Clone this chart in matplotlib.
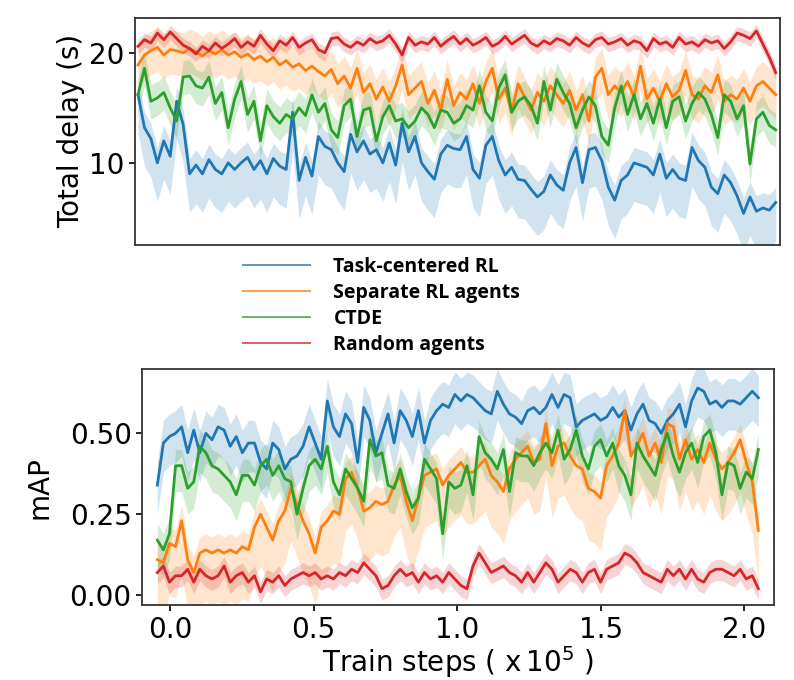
import matplotlib
matplotlib.use("Agg")
import matplotlib.pyplot as plt
import numpy as np

# train steps (x 1e5), same sampling for both panels
steps = np.linspace(-0.045, 2.05, 100)

labels = ["Task-centered RL", "Separate RL agents", "CTDE", "Random agents"]
colors = ["#1f77b4", "#ff7f0e", "#2ca02c", "#d62728"]

# ---- total delay (s) ----
delay_task = [16.2, 13.2, 12.2, 10.0, 12.0, 10.6, 15.6, 13.5, 9.0, 9.8,
              9.0, 10.3, 9.4, 9.0, 10.0, 9.4, 10.0, 10.5, 9.4, 10.2,
              9.0, 10.4, 9.7, 9.4, 14.6, 8.4, 10.5, 8.8, 12.4, 11.5,
              11.2, 10.0, 9.2, 12.6, 11.0, 12.0, 10.8, 11.2, 10.0, 11.8,
              9.8, 13.6, 11.0, 12.4, 10.0, 9.2, 8.5, 10.8, 11.6, 11.3,
              11.2, 12.4, 9.4, 8.6, 11.6, 12.4, 10.2, 8.9, 9.6, 8.5,
              8.4, 7.6, 6.9, 7.4, 8.9, 8.0, 7.5, 10.0, 11.4, 8.2,
              11.2, 11.4, 10.2, 7.8, 6.6, 8.4, 8.9, 10.0, 9.8, 9.6,
              8.9, 10.8, 8.6, 9.4, 8.6, 8.4, 11.4, 10.2, 9.6, 7.8,
              7.2, 8.9, 8.2, 7.0, 5.4, 6.9, 5.6, 5.9, 5.7, 6.4]
delay_sep = [18.9, 19.8, 20.2, 20.5, 19.8, 20.3, 20.2, 20.0, 20.4, 20.1,
             19.7, 20.2, 19.9, 20.3, 19.8, 20.1, 19.6, 19.9, 19.4, 19.7,
             19.2, 19.6, 18.9, 19.3, 18.7, 19.0, 18.4, 18.8, 18.3, 17.9,
             18.5, 17.2, 17.9, 16.8, 18.6, 16.4, 17.2, 15.8, 16.9, 15.6,
             17.0, 18.9, 16.2, 16.8, 17.4, 15.4, 16.6, 14.8, 17.6, 15.2,
             16.4, 15.8, 17.2, 15.4, 17.4, 18.6, 15.8, 16.8, 14.6, 17.2,
             16.0, 14.8, 16.4, 15.6, 17.0, 16.2, 15.4, 16.6, 14.8, 16.2,
             13.8, 17.8, 18.6, 16.2, 17.0, 16.4, 17.4, 16.0, 18.8, 15.8,
             16.8, 15.6, 17.2, 16.0, 16.6, 18.4, 16.2, 15.8, 17.0, 16.4,
             18.0, 15.6, 16.2, 15.8, 16.8, 15.6, 17.0, 17.4, 16.8, 16.2]
delay_ctde = [16.2, 18.6, 15.6, 15.9, 16.4, 15.0, 13.8, 17.8, 17.9, 17.0,
              16.8, 17.8, 15.4, 16.4, 13.2, 15.8, 17.4, 14.4, 15.6, 12.0,
              15.2, 14.2, 13.6, 14.4, 14.0, 15.0, 14.3, 16.2, 14.6, 15.4,
              13.0, 12.3, 15.2, 15.8, 12.4, 14.8, 15.0, 12.0, 14.2, 15.2,
              13.8, 14.0, 13.2, 13.8, 15.0, 14.4, 13.2, 14.8, 14.6, 13.6,
              14.0, 15.2, 14.8, 17.0, 14.6, 13.8, 16.8, 18.0, 14.6, 15.6,
              16.0, 15.2, 13.6, 17.4, 14.8, 17.6, 16.4, 15.4, 13.2, 14.8,
              16.0, 15.2, 12.4, 11.6, 15.0, 17.0, 14.4, 16.2, 14.0, 15.4,
              13.6, 15.8, 13.2, 15.6, 16.0, 13.8, 15.4, 16.4, 15.8, 14.4,
              12.3, 16.2, 15.6, 14.0, 15.2, 9.9, 14.0, 14.6, 13.4, 13.0]
delay_rand = [20.6, 21.2, 20.9, 21.8, 21.2, 21.9, 21.3, 20.7, 20.4, 19.9,
              20.6, 20.2, 20.9, 20.4, 20.8, 21.3, 20.5, 21.0, 20.6, 21.6,
              20.8, 20.2, 21.1, 20.7, 21.4, 20.5, 20.9, 21.2, 20.3, 20.0,
              21.3, 21.4, 20.8, 20.5, 21.0, 20.7, 21.3, 20.9, 21.1, 21.6,
              20.8, 19.8, 21.4, 20.7, 21.0, 20.8, 21.4, 20.6, 21.1, 21.5,
              20.8, 21.3, 20.7, 21.0, 21.4, 20.6, 20.9, 21.5, 20.8, 21.2,
              21.6, 20.9, 20.6, 21.1, 20.8, 21.3, 21.1, 20.7, 21.4, 20.9,
              20.6, 21.2, 21.4, 20.8, 21.0, 21.3, 20.7, 21.1, 20.9, 20.2,
              21.3, 20.8, 21.0, 20.5, 21.4, 20.8, 21.0, 20.6, 21.2, 20.9,
              21.1, 20.4, 21.0, 21.8, 21.6, 21.3, 22.0, 20.8, 19.6, 18.2]

# ---- mAP ----
map_task = [0.34, 0.47, 0.49, 0.50, 0.52, 0.44, 0.51, 0.44, 0.50, 0.48,
            0.52, 0.51, 0.46, 0.49, 0.44, 0.47, 0.47, 0.41, 0.39, 0.47,
            0.45, 0.39, 0.42, 0.43, 0.46, 0.52, 0.47, 0.42, 0.60, 0.52,
            0.49, 0.56, 0.53, 0.41, 0.58, 0.54, 0.44, 0.50, 0.56, 0.47,
            0.57, 0.54, 0.49, 0.57, 0.47, 0.54, 0.57, 0.59, 0.58, 0.62,
            0.60, 0.62, 0.61, 0.59, 0.57, 0.56, 0.63, 0.59, 0.56, 0.55,
            0.53, 0.57, 0.58, 0.56, 0.58, 0.62, 0.58, 0.62, 0.61, 0.52,
            0.54, 0.55, 0.56, 0.54, 0.55, 0.58, 0.55, 0.57, 0.51, 0.56,
            0.59, 0.54, 0.53, 0.50, 0.54, 0.56, 0.59, 0.52, 0.60, 0.64,
            0.63, 0.59, 0.60, 0.58, 0.60, 0.60, 0.59, 0.61, 0.63, 0.61]
map_sep = [0.11, 0.10, 0.16, 0.15, 0.23, 0.11, 0.07, 0.13, 0.14, 0.13,
           0.14, 0.13, 0.14, 0.13, 0.15, 0.14, 0.21, 0.25, 0.21, 0.17,
           0.23, 0.26, 0.33, 0.28, 0.23, 0.19, 0.13, 0.21, 0.23, 0.26,
           0.25, 0.36, 0.38, 0.33, 0.26, 0.27, 0.29, 0.28, 0.29, 0.34,
           0.37, 0.29, 0.23, 0.30, 0.37, 0.38, 0.39, 0.34, 0.37, 0.39,
           0.41, 0.38, 0.38, 0.40, 0.42, 0.37, 0.35, 0.32, 0.39, 0.42,
           0.44, 0.46, 0.41, 0.42, 0.53, 0.40, 0.46, 0.47, 0.43, 0.40,
           0.39, 0.33, 0.32, 0.30, 0.40, 0.43, 0.47, 0.57, 0.43, 0.46,
           0.50, 0.43, 0.47, 0.41, 0.53, 0.52, 0.42, 0.48, 0.42, 0.45,
           0.41, 0.47, 0.42, 0.39, 0.41, 0.44, 0.48, 0.41, 0.35, 0.20]
map_ctde = [0.17, 0.14, 0.19, 0.40, 0.40, 0.33, 0.35, 0.46, 0.44, 0.40,
            0.39, 0.37, 0.35, 0.31, 0.37, 0.37, 0.34, 0.40, 0.42, 0.37,
            0.40, 0.36, 0.35, 0.25, 0.33, 0.40, 0.42, 0.39, 0.46, 0.35,
            0.31, 0.39, 0.36, 0.33, 0.29, 0.48, 0.43, 0.44, 0.34, 0.33,
            0.39, 0.32, 0.27, 0.30, 0.42, 0.39, 0.36, 0.19, 0.35, 0.33,
            0.34, 0.40, 0.31, 0.49, 0.44, 0.42, 0.39, 0.45, 0.32, 0.44,
            0.43, 0.43, 0.40, 0.44, 0.47, 0.44, 0.51, 0.42, 0.45, 0.51,
            0.43, 0.39, 0.46, 0.48, 0.43, 0.47, 0.40, 0.37, 0.31, 0.47,
            0.43, 0.40, 0.37, 0.45, 0.50, 0.43, 0.38, 0.44, 0.47, 0.41,
            0.49, 0.51, 0.44, 0.31, 0.41, 0.40, 0.33, 0.38, 0.36, 0.45]
map_rand = [0.07, 0.09, 0.04, 0.06, 0.06, 0.08, 0.04, 0.08, 0.06, 0.05,
            0.06, 0.09, 0.04, 0.06, 0.07, 0.04, 0.06, 0.01, 0.05, 0.04,
            0.06, 0.03, 0.05, 0.06, 0.07, 0.06, 0.07, 0.05, 0.06, 0.05,
            0.07, 0.06, 0.08, 0.07, 0.10, 0.08, 0.06, 0.02, 0.03, 0.06,
            0.08, 0.06, 0.07, 0.04, 0.07, 0.05, 0.06, 0.04, 0.07, 0.05,
            0.03, 0.02, 0.09, 0.13, 0.10, 0.07, 0.08, 0.09, 0.07, 0.06,
            0.04, 0.07, 0.04, 0.07, 0.10, 0.08, 0.04, 0.06, 0.08, 0.07,
            0.04, 0.07, 0.08, 0.04, 0.08, 0.09, 0.10, 0.13, 0.12, 0.10,
            0.07, 0.06, 0.05, 0.04, 0.08, 0.06, 0.08, 0.05, 0.08, 0.05,
            0.04, 0.07, 0.08, 0.08, 0.07, 0.06, 0.08, 0.05, 0.06, 0.02]

# spread of the shaded band below / above the mean, per method
delay_spread_lo = [3.5, 2.2, 1.6, 0.7]
delay_spread_hi = [1.4, 1.8, 1.5, 0.6]
map_spread_lo = [0.09, 0.16, 0.08, 0.035]
map_spread_hi = [0.07, 0.05, 0.05, 0.03]

delay_series = [delay_task, delay_sep, delay_ctde, delay_rand]
map_series = [map_task, map_sep, map_ctde, map_rand]

fig = plt.figure(figsize=(7.94, 6.8), dpi=100)
ax1 = fig.add_axes([0.170, 0.640, 0.812, 0.334])
ax2 = fig.add_axes([0.179, 0.110, 0.796, 0.347])

handles = []
for i in range(4):
    y = np.array(delay_series[i])
    ax1.fill_between(steps, y - delay_spread_lo[i], y + delay_spread_hi[i],
                     color=colors[i], alpha=0.2, lw=0)
    (h,) = ax1.plot(steps, y, color=colors[i], lw=2.0, label=labels[i])
    handles.append(h)

    m = np.array(map_series[i])
    ax2.fill_between(steps, m - map_spread_lo[i], m + map_spread_hi[i],
                     color=colors[i], alpha=0.2, lw=0)
    ax2.plot(steps, m, color=colors[i], lw=2.0)

ax1.set_xlim(-0.055, 2.063)
ax1.set_ylim(2.55, 23.2)
ax1.set_xticks([])
ax1.set_yticks([10, 20])
ax1.set_ylabel("Total delay (s)", fontsize=20)
ax1.yaxis.set_label_coords(-0.078, 0.5)

ax2.set_xlim(-0.098, 2.105)
ax2.set_ylim(-0.031, 0.698)
ax2.set_xticks([0.0, 0.5, 1.0, 1.5, 2.0])
ax2.set_yticks([0.0, 0.25, 0.5])
ax2.set_yticklabels(["0.00", "0.25", "0.50"])
ax2.set_ylabel("mAP", fontsize=20)
ax2.yaxis.set_label_coords(-0.14, 0.5)
ax2.set_xlabel(r"Train steps ( $\mathsf{x\,10^5}$ )", fontsize=20, labelpad=0)

for ax in (ax1, ax2):
    ax.tick_params(labelsize=20, width=1.2, length=4)
    for s in ax.spines.values():
        s.set_color("#333333")
        s.set_linewidth(1.3)

leg = fig.legend(handles=handles, loc="upper left",
                 bbox_to_anchor=(0.306, 0.622), frameon=False,
                 prop={"family": "Open Sans", "weight": "bold", "size": 14},
                 handlelength=3.45, handletextpad=1.2, labelspacing=0.3,
                 borderpad=0, borderaxespad=0)
for line in leg.get_lines():
    line.set_linewidth(1.4)
    line.set_alpha(0.75)

fig.savefig("out.png", dpi=100)
